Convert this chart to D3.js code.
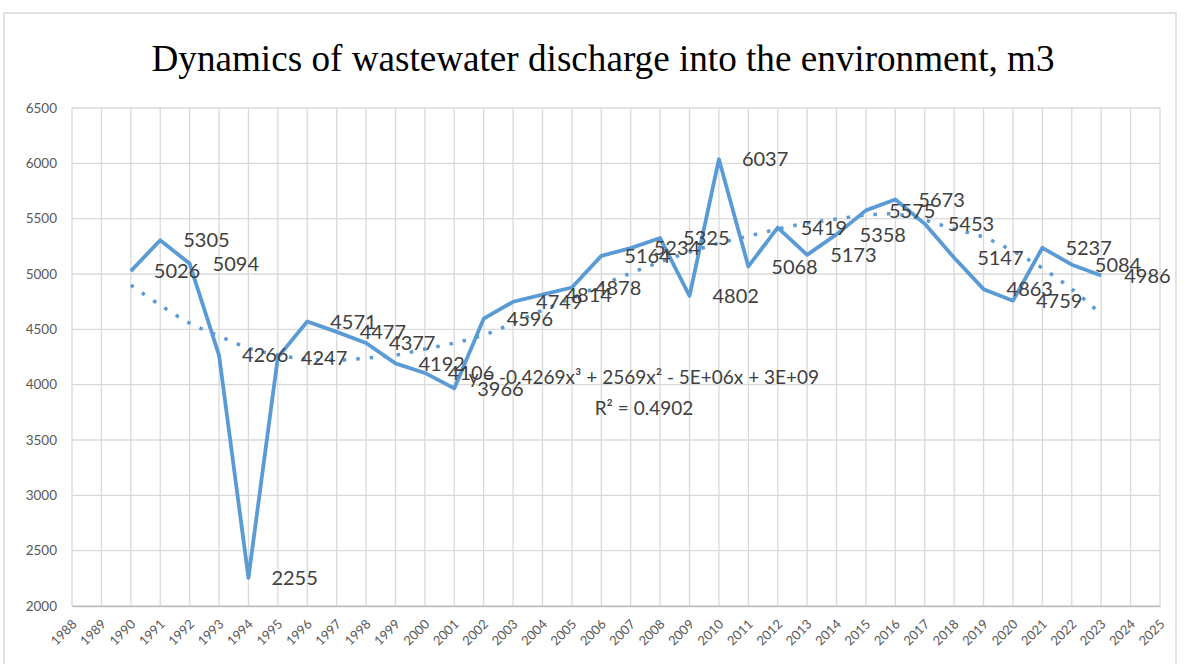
<!DOCTYPE html>
<html lang="en">
<head>
    <meta charset="UTF-8">
    <title>Dynamics of wastewater discharge</title>
    <script src="https://cdn.jsdelivr.net/npm/d3@7/dist/d3.min.js"></script>
    <style>
        body { margin: 0; background: #fff; }
        svg { display: block; }
    </style>
</head>
<body>
<svg id="svg"></svg>
<script>
    // category labels on the x axis
    var yearLabels = ["1988", "1989", "1990", "1991", "1992", "1993", "1994", "1995", "1996", "1997",
        "1998", "1999", "2000", "2001", "2002", "2003", "2004", "2005", "2006", "2007",
        "2008", "2009", "2010", "2011", "2012", "2013", "2014", "2015", "2016", "2017",
        "2018", "2019", "2020", "2021", "2022", "2023", "2024", "2025"];

    // years that carry data
    var dataYears = ["1990", "1991", "1992", "1993", "1994", "1995", "1996", "1997", "1998", "1999",
        "2000", "2001", "2002", "2003", "2004", "2005", "2006", "2007", "2008", "2009",
        "2010", "2011", "2012", "2013", "2014", "2015", "2016", "2017", "2018", "2019",
        "2020", "2021", "2022", "2023"];

    // wastewater discharge, m3
    var discharge = [5026, 5305, 5094, 4266, 2255, 4247, 4571, 4477, 4377, 4192,
        4106, 3966, 4596, 4749, 4814, 4878, 5164, 5234, 5325, 4802,
        6037, 5068, 5419, 5173, 5358, 5575, 5673, 5453, 5147, 4863,
        4759, 5237, 5084, 4986];

    // polynomial trendline
    var trend = [4900, 4719, 4556, 4439, 4331, 4267, 4231, 4222, 4240, 4267,
        4322, 4376, 4448, 4556, 4674, 4782, 4900, 5008, 5108, 5198,
        5279, 5342, 5406, 5460, 5496, 5532, 5541, 5487, 5406, 5333,
        5207, 5053, 4864, 4638];

    var yTicks = [2000, 2500, 3000, 3500, 4000, 4500, 5000, 5500, 6000, 6500];

    var titleText = "Dynamics of wastewater discharge into the environment, m3";
    var eqText = "y = -0.4269x\u00b3 + 2569x\u00b2 - 5E+06x + 3E+09";
    var r2Text = "R\u00b2 = 0.4902";

    var width = 1190, height = 664;
    var plot = {left: 72, right: 1160, top: 108, bottom: 606};
    var blue = "#5b9bd5", grid = "#d9d9d9", labelColor = "#404040";

    var svg = d3.select("#svg")
        .attr("width", width)
        .attr("height", height);

    // chart frame
    svg.append("rect")
        .attr("x", 4).attr("y", 13)
        .attr("width", 1172).attr("height", 700)
        .attr("fill", "#fff")
        .attr("stroke", "#d9d9d9")
        .attr("stroke-width", 1.5);

    // title
    svg.append("text")
        .attr("x", 603).attr("y", 71)
        .attr("text-anchor", "middle")
        .attr("textLength", 903)
        .attr("lengthAdjust", "spacingAndGlyphs")
        .style("font-family", "'Liberation Serif', 'Times New Roman', serif")
        .style("font-size", "38px")
        .style("fill", "#000")
        .text(titleText);

    var x = d3.scalePoint().domain(yearLabels).range([plot.left, plot.right]);
    var y = d3.scaleLinear().domain([2000, 6500]).range([plot.bottom, plot.top]);

    // gridlines
    var g = svg.append("g");
    g.append("g")
        .selectAll("line")
        .data(yTicks)
        .enter()
        .append("line")
        .attr("x1", plot.left).attr("x2", plot.right)
        .attr("y1", function (d) { return y(d); })
        .attr("y2", function (d) { return y(d); })
        .style("stroke", grid)
        .style("stroke-width", 1.3);

    g.append("g")
        .selectAll("line")
        .data(yearLabels)
        .enter()
        .append("line")
        .attr("x1", function (d) { return x(d); })
        .attr("x2", function (d) { return x(d); })
        .attr("y1", plot.top).attr("y2", plot.bottom)
        .style("stroke", grid)
        .style("stroke-width", 1.3);

    // y axis
    var yAxis = svg.append("g")
        .attr("transform", "translate(" + plot.left + ",0)")
        .call(d3.axisLeft(y).tickValues(yTicks).tickSize(0).tickPadding(15).tickFormat(d3.format("d")));
    yAxis.select(".domain").remove();
    yAxis.selectAll("text")
        .style("font-family", "Lato, 'Open Sans', sans-serif")
        .style("font-size", "13.5px")
        .style("fill", "#595959");

    // x axis, labels turned -45deg
    var xAxis = svg.append("g")
        .attr("transform", "translate(0," + plot.bottom + ")")
        .call(d3.axisBottom(x).tickSize(0).tickPadding(0));
    xAxis.select(".domain")
        .style("stroke", "#bfbfbf")
        .style("stroke-width", 1.5);
    xAxis.selectAll("text")
        .attr("text-anchor", "end")
        .attr("dy", 0)
        .attr("transform", "translate(5,19) rotate(-45)")
        .style("font-family", "Lato, 'Open Sans', sans-serif")
        .style("font-size", "13px")
        .style("fill", "#595959");

    // trendline (dotted)
    var trendLine = d3.line()
        .x(function (d, i) { return x(dataYears[i]); })
        .y(function (d) { return y(d); })
        .curve(d3.curveCatmullRom);
    svg.append("path")
        .datum(trend)
        .attr("d", trendLine)
        .attr("fill", "none")
        .style("stroke", blue)
        .style("stroke-width", 3.5)
        .style("stroke-dasharray", "3.5 10");

    // data line
    var mainLine = d3.line()
        .x(function (d, i) { return x(dataYears[i]); })
        .y(function (d) { return y(d); });
    svg.append("path")
        .datum(discharge)
        .attr("d", mainLine)
        .attr("fill", "none")
        .style("stroke", blue)
        .style("stroke-width", 3.8)
        .style("stroke-linejoin", "round");

    // data labels, to the right of each point
    svg.append("g")
        .selectAll("text")
        .data(discharge)
        .enter()
        .append("text")
        .attr("x", function (d, i) { return x(dataYears[i]) + 23; })
        .attr("y", function (d) { return y(d); })
        .attr("dy", "0.36em")
        .style("font-family", "Lato, 'Open Sans', sans-serif")
        .style("font-size", "20px")
        .style("fill", labelColor)
        .text(function (d) { return d; });

    // trendline equation
    var eq = svg.append("g")
        .style("font-family", "Lato, 'Open Sans', sans-serif")
        .style("font-size", "19px")
        .style("fill", labelColor)
        .attr("text-anchor", "middle");
    eq.append("text").attr("x", 644).attr("y", 384).text(eqText);
    eq.append("text").attr("x", 644).attr("y", 415).text(r2Text);
</script>
</body>
</html>
